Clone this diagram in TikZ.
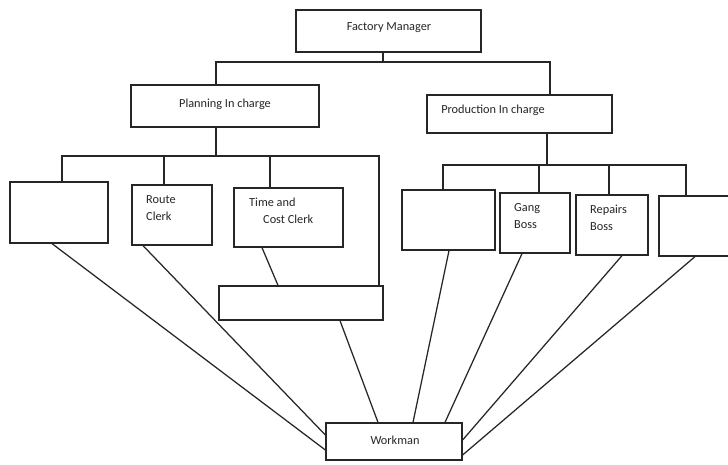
\documentclass[tikz,border=0pt]{standalone}
\usepackage{fontspec}
\setmainfont{Carlito}
\usetikzlibrary{fit}
\definecolor{ink}{HTML}{262626}
\begin{document}
\begin{tikzpicture}[x=1pt,y=-1pt,
  box/.style={draw=ink, line width=1.25pt, inner sep=0pt},
  lbl/.style={font=\fontsize{12.3}{17}\selectfont, text=ink, inner sep=0pt},
  link/.style={draw=ink, line width=1.25pt}]
\clip (0,0) rectangle (728,464);
\fill[white] (0,0) rectangle (728,464);

% ---- boxes (corners) ----
\coordinate (fm1) at (296,10);  \coordinate (fm2) at (481,52);
\coordinate (pl1) at (131,85);  \coordinate (pl2) at (319,127);
\coordinate (pr1) at (427,95);  \coordinate (pr2) at (612,133);
\coordinate (lb1) at (10,182);  \coordinate (lb2) at (108,243);
\coordinate (rc1) at (132,185); \coordinate (rc2) at (212,245);
\coordinate (tc1) at (234,188); \coordinate (tc2) at (343,247);
\coordinate (bb1) at (219,286); \coordinate (bb2) at (383,320);
\coordinate (pa1) at (402,190); \coordinate (pa2) at (495,250);
\coordinate (gb1) at (500,193); \coordinate (gb2) at (570,253);
\coordinate (rb1) at (576,195); \coordinate (rb2) at (648,255);
\coordinate (pb1) at (659,196); \coordinate (pb2) at (740,256);
\coordinate (wm1) at (326,423); \coordinate (wm2) at (462,460);

\node[box, fit=(fm1)(fm2)] (fm) {};
\node[box, fit=(pl1)(pl2)] (plan) {};
\node[box, fit=(pr1)(pr2)] (prod) {};
\node[box, fit=(lb1)(lb2)] (lb) {};
\node[box, fit=(rc1)(rc2)] (rc) {};
\node[box, fit=(tc1)(tc2)] (tc) {};
\node[box, fit=(bb1)(bb2)] (bb) {};
\node[box, fit=(pa1)(pa2)] (pa) {};
\node[box, fit=(gb1)(gb2)] (gb) {};
\node[box, fit=(rb1)(rb2)] (rb) {};
\node[box, fit=(pb1)(pb2)] (pb) {};
\node[box, fit=(wm1)(wm2)] (wm) {};

% ---- labels ----
\node[lbl] (fmt) at (389,28) {Factory Manager};
\node[lbl] (plt) at (225,104) {Planning In charge};
\node[lbl] (prt) at (493,110) {Production In charge};
\node[lbl, anchor=base west] (rct1) at (146,203) {Route};
\node[lbl, anchor=base west] (rct2) at (146,220) {Clerk};
\node[lbl, anchor=base west] (tct1) at (249,206) {Time and};
\node[lbl, anchor=base west] (tct2) at (263,223) {Cost Clerk};
\node[lbl, anchor=base west] (gbt1) at (514,211) {Gang};
\node[lbl, anchor=base west] (gbt2) at (514,228) {Boss};
\node[lbl, anchor=base west] (rbt1) at (590,213) {Repairs};
\node[lbl, anchor=base west] (rbt2) at (590,230) {Boss};
\node[lbl] (wmt) at (395,440) {Workman};

% ---- tree connectors ----
\coordinate (j0) at (383,62);
\coordinate (j0l) at (216,62);
\coordinate (j0r) at (550,62);
\draw[link] (fm.south -| j0) -- (j0);
\draw[link] (plan.north -| j0l) -- (j0l) -- (j0r) -- (prod.north -| j0r);

\coordinate (j1) at (216,156);
\coordinate (j1l) at (62,156);
\coordinate (j1r) at (379,156);
\draw[link] (plan.south -| j1) -- (j1);
\draw[link] (lb.north -| j1l) -- (j1l) -- (j1r) -- (bb.north -| j1r);
\draw[link] (rc.north -| 164,0) -- (164,156);
\draw[link] (tc.north -| 270,0) -- (270,156);

\coordinate (j2) at (547,165);
\coordinate (j2l) at (443,165);
\coordinate (j2r) at (686,165);
\draw[link] (prod.south -| j2) -- (j2);
\draw[link] (pa.north -| j2l) -- (j2l) -- (j2r) -- (pb.north -| j2r);
\draw[link] (gb.north -| 539,0) -- (539,165);
\draw[link] (rb.north -| 609,0) -- (609,165);

% ---- diagonal links ----
\draw[link] (lb.south -| 52,0) -- (wm.west |- 0,450);
\draw[link] (rc.south -| 143,0) -- (wm.west |- 0,435);
\draw[link] (tc.south -| 262,0) -- (bb.north -| 278,0);
\draw[link] (bb.south -| 340,0) -- (wm.north -| 378,0);
\draw[link] (pa.south -| 449,0) -- (wm.north -| 413,0);
\draw[link] (gb.south -| 522,0) -- (wm.north -| 445,0);
\draw[link] (rb.south -| 622,0) -- (wm.east |- 0,440);
\draw[link] (pb.south -| 695,0) -- (wm.east |- 0,455);
\end{tikzpicture}
\end{document}
